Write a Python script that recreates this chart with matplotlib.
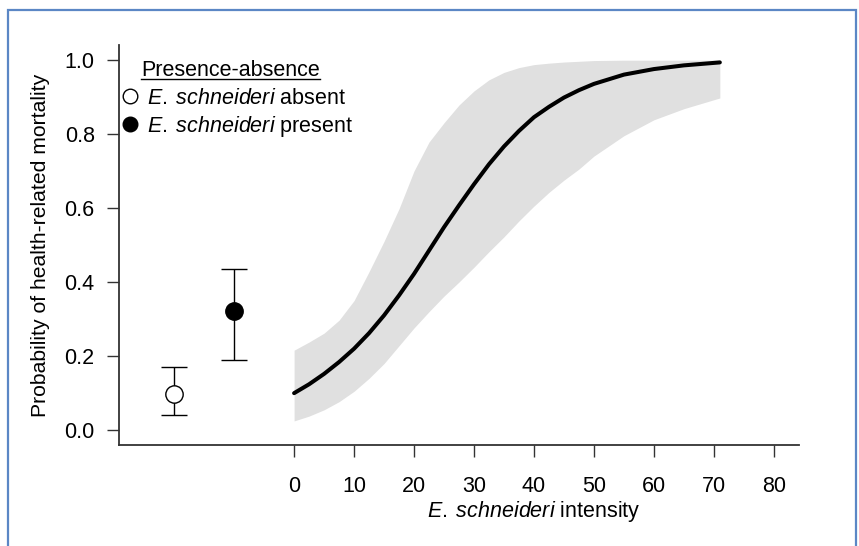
import matplotlib
matplotlib.use("Agg")
import matplotlib.pyplot as plt
from matplotlib.lines import Line2D
from matplotlib.patches import Rectangle
import matplotlib.transforms as mtransforms

plt.rcParams['font.family'] = ['Liberation Sans', 'DejaVu Sans']
plt.rcParams['mathtext.fontset'] = 'custom'
plt.rcParams['mathtext.rm'] = 'Liberation Sans'
plt.rcParams['mathtext.it'] = 'Liberation Sans:italic'

# presence-absence estimates with 95% intervals
pa_groups = ['absent', 'present']
pa_est = [0.097, 0.322]
pa_low = [0.040, 0.189]
pa_high = [0.171, 0.435]

# intensity model: fitted curve and confidence band
intensity = [0, 2.5, 5, 7.5, 10, 12.5, 15, 17.5, 20, 22.5, 25, 27.5, 30, 32.5,
             35, 37.5, 40, 42.5, 45, 47.5, 50, 55, 60, 65, 71]
fit = [0.100, 0.124, 0.152, 0.184, 0.220, 0.262, 0.310, 0.364, 0.422, 0.485,
       0.548, 0.607, 0.664, 0.718, 0.766, 0.808, 0.845, 0.873, 0.898, 0.918,
       0.935, 0.960, 0.975, 0.985, 0.993]
band_low = [0.025, 0.038, 0.055, 0.077, 0.105, 0.140, 0.180, 0.228, 0.276,
            0.320, 0.362, 0.400, 0.440, 0.482, 0.522, 0.565, 0.605, 0.642,
            0.675, 0.705, 0.740, 0.795, 0.838, 0.868, 0.897]
band_high = [0.216, 0.238, 0.262, 0.297, 0.350, 0.428, 0.510, 0.598, 0.700,
             0.778, 0.830, 0.878, 0.916, 0.946, 0.966, 0.979, 0.987, 0.991,
             0.994, 0.996, 0.998, 0.999, 0.999, 0.999, 0.999]

xticks = [0, 10, 20, 30, 40, 50, 60, 70, 80]
yticks = [0.0, 0.2, 0.4, 0.6, 0.8, 1.0]

W, H = 859, 546
FS = 15.5
fig = plt.figure(figsize=(W / 100, H / 100), dpi=100)

# blue frame around the panel
fig.patches.append(Rectangle((8 / W, -0.05), 848 / W, 1.05 - 10 / H,
                             transform=fig.transFigure, fill=False,
                             edgecolor='#5b87c5', linewidth=1.6))

ax = fig.add_axes([119 / W, 1 - 445 / H, 680 / W, 400 / H])

ax.fill_between(intensity, band_low, band_high, color='#e0e0e0', linewidth=0)
ax.plot(intensity, fit, color='black', linewidth=2.9, solid_capstyle='round',
        solid_joinstyle='round')

# presence-absence points sit left of the intensity scale
pa_x = [-20, -10]
for i, g in enumerate(pa_groups):
    face = 'white' if g == 'absent' else 'black'
    ax.errorbar(pa_x[i], pa_est[i],
                yerr=[[pa_est[i] - pa_low[i]], [pa_high[i] - pa_est[i]]],
                fmt='o', color='black', mfc=face, mec='black', ms=12.5,
                mew=1.0, elinewidth=1.0, capsize=9.5, capthick=1.0, zorder=3)

ax.set_xlim(-29.2, 84.2)
ax.set_ylim(-0.04, 1.04)
ax.set_xticks(xticks)
ax.set_yticks(yticks)
ax.set_yticklabels([f'{v:.1f}' for v in yticks])
for s in ['top', 'right']:
    ax.spines[s].set_visible(False)
for s in ['left', 'bottom']:
    ax.spines[s].set_linewidth(1.3)
    ax.spines[s].set_color('#333333')
ax.tick_params(axis='both', direction='out', length=8.5, width=1.0,
               color='#333333', labelsize=FS)
ax.tick_params(axis='x', pad=13.5)
ax.tick_params(axis='y', pad=9)

fig.text(41 / W, 1 - 245 / H, 'Probability of health-related mortality',
         rotation=90, ha='center', va='center', fontsize=15.2)

xl_tr = mtransforms.blended_transform_factory(ax.transData, fig.transFigure)
ax.text(40, 1 - 512 / H, r'$\it{E.\;schneideri}$ intensity', transform=xl_tr,
        ha='center', va='center', fontsize=FS)

# legend
title = fig.text(141 / W, 1 - 76 / H, 'Presence-absence', ha='left',
                 va='baseline', fontsize=FS)
handles = [Line2D([], [], marker='o', linestyle='none', mfc='white', mec='black',
                  ms=10.5, mew=1.0),
           Line2D([], [], marker='o', linestyle='none', mfc='black', mec='black',
                  ms=10.5, mew=1.0)]
labels = [r'$\it{E.\;schneideri}$ absent', r'$\it{E.\;schneideri}$ present']
fig.legend(handles, labels, loc='upper left',
           bbox_to_anchor=(122 / W, 1 - 88 / H), bbox_transform=fig.transFigure,
           frameon=False, fontsize=FS, borderpad=0, borderaxespad=0,
           handlelength=0.75, handletextpad=0.4, labelspacing=0.22)

fig.canvas.draw()
bb = title.get_window_extent()
uy = (H - 78.5) / H
fig.lines.append(Line2D([bb.x0 / W, bb.x1 / W], [uy, uy], transform=fig.transFigure,
                        color='black', linewidth=1.0))

fig.savefig('out.png', dpi=100)
